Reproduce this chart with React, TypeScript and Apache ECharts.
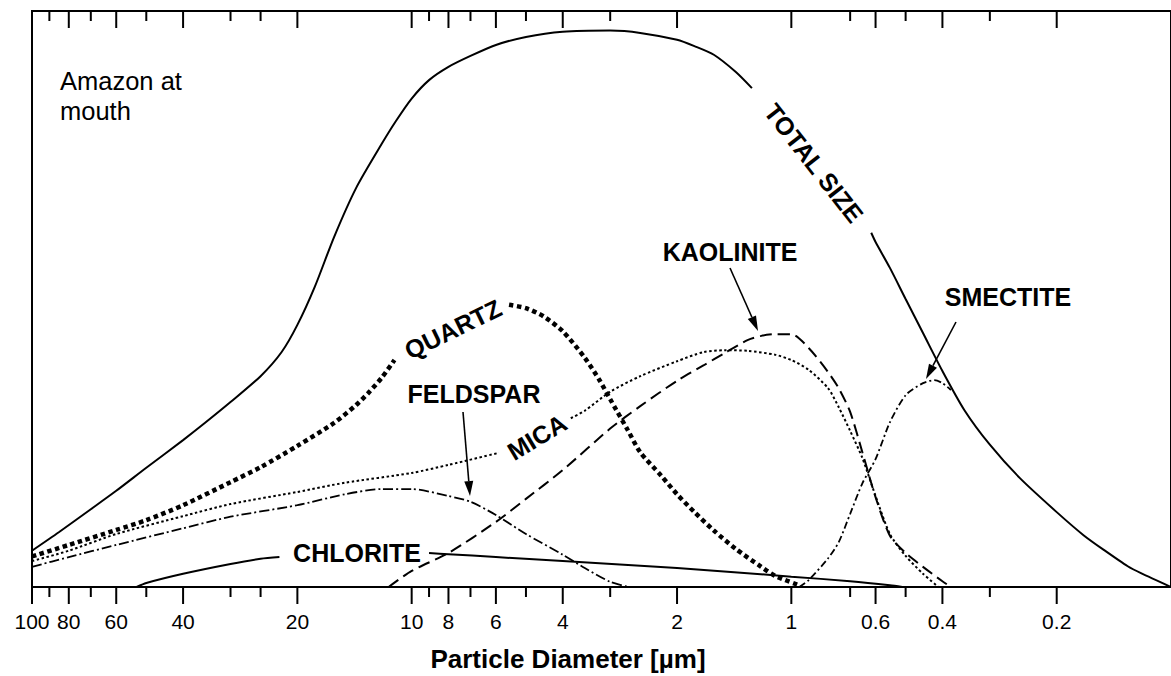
import React, { useEffect, useRef } from "react";
import * as echarts from "echarts";

// x axis: particle diameter [µm] (log, reversed); y: relative amount (0-100)
const majorTicks = [100, 80, 60, 40, 20, 10, 8, 6, 4, 2, 1, 0.6, 0.4, 0.2];
const tickLabels = ["100", "80", "60", "40", "20", "10", "8", "6", "4", "2", "1", "0.6", "0.4", "0.2"];
const minorTicks = [90, 70, 50, 30, 25, 9, 7, 5, 3, 0.7, 0.5, 0.3];

const totalSize = [
  [100, 6.3], [85, 9.5], [70, 13.5], [60, 16.7], [50, 20.7], [40, 25.5], [35, 28.5], [30, 32.1],
  [25, 36.6], [22, 40.8], [20, 45.5], [18, 52.1], [16, 60.8], [14, 69.3], [12, 76.9], [11, 80.9],
  [10, 84.8], [9, 88], [8, 90.3], [7, 92.2], [6, 94.1], [5, 95.5], [4, 96.4], [3, 96.6], [2.5, 96.2],
  [2, 95], [1.8, 93.9], [1.6, 92.4], [1.4, 89.4], [1.27, 86.6], [0.9, "-"], [0.616, 61.5], [0.6, 59.9],
  [0.55, 55.4], [0.5, 50], [0.45, 44.1], [0.4, 37.5], [0.35, 30.7], [0.3, 24.7], [0.25, 18.9],
  [0.2, 13], [0.17, 9], [0.15, 6.4], [0.13, 3.6], [0.12, 2.4], [0.1, 0],
];
const quartz = [
  [100, 5.3], [80, 7.3], [60, 9.9], [50, 11.6], [40, 14.2], [30, 18.2], [25, 20.8], [20, 24.5],
  [16, 28.5], [14, 31.6], [13, 33.7], [12, 36.3], [11.1, 39.4], [8, "-"], [5.54, 49], [5, 48.4],
  [4.5, 47], [4, 44.4], [3.5, 39.8], [3.2, 35.9], [3, 32.6], [2.7, 27.3], [2.5, 23.4], [2.2, 19.3],
  [2, 16.1], [1.8, 13], [1.6, 9.8], [1.4, 6.6], [1.2, 3.5], [1.1, 1.9], [0.953, 0.3],
];
const mica = [
  [100, 4.5], [80, 6.3], [60, 9.2], [40, 12.3], [30, 14.4], [20, 16.5], [15, 18.1], [10, 19.8],
  [8, 21.2], [5.89, 23.3], [4.8, "-"], [3.81, 29.3], [3.5, 30.6], [3, 33.9], [2.5, 36.6], [2, 39.2],
  [1.7, 40.8], [1.5, 41.1], [1.3, 41], [1.1, 40.3], [1, 39.4], [0.9, 37.7], [0.8, 34.5], [0.75, 31.2],
  [0.7, 27.1], [0.65, 22.4], [0.6, 15.8], [0.55, 9.2], [0.5, 5.4], [0.45, 2.3], [0.41, 0],
];
const kaolinite = [
  [11.5, 0], [10, 2.8], [8, 5.9], [6, 11.3], [5, 15.3], [4, 20.3], [3, 27.5], [2.5, 31.4], [2, 35.8],
  [1.7, 38.5], [1.5, 40.6], [1.3, 42.9], [1.2, 43.6], [1.1, 43.9], [1, 43.9], [0.9, 41.5], [0.8, 37.3],
  [0.75, 34.5], [0.7, 30.4], [0.65, 23.4], [0.6, 15.6], [0.55, 8.9], [0.5, 5.9], [0.45, 3.5],
  [0.4, 1], [0.38, 0],
];
const feldspar = [
  [100, 3.5], [80, 5.2], [60, 7.3], [40, 10.2], [30, 12.2], [20, 14.2], [15, 16.1], [12, 17], [10, 17],
  [8, 15.8], [7, 14.8], [6, 12.5], [5, 9.2], [4, 5.6], [3.5, 3.3], [3, 0.9], [2.68, 0],
];
const chlorite = [
  [53, 0], [50, 0.7], [40, 2.3], [30, 4], [25, 4.9], [22.3, 5.2], [14, "-"], [9, 5.9], [8, 5.7],
  [6, 5.2], [4, 4.5], [2, 3.3], [1, 1.8], [0.7, 1], [0.55, 0.3], [0.51, 0],
];
const smectite = [
  [0.953, 0], [0.9, 1.2], [0.8, 5], [0.75, 7.8], [0.7, 12.7], [0.65, 18], [0.6, 22.2], [0.55, 28.6],
  [0.5, 33.3], [0.45, 35.4], [0.42, 35.9], [0.4, 35.4], [0.38, 34.2],
];

const FONT = '"Liberation Sans", Arial, Helvetica, sans-serif';

function label(text: string, x: number, y: number, rotDeg = 0, font = `bold 25px ${FONT}`, align = "center") {
  return {
    type: "text",
    x,
    y,
    rotation: (rotDeg * Math.PI) / 180,
    silent: true,
    style: {
      text,
      font,
      fill: "#000",
      align,
      verticalAlign: "middle",
      textAlign: align,
      textVerticalAlign: "middle",
    },
  };
}

function arrow(x1: number, y1: number, x2: number, y2: number) {
  const a = Math.atan2(y2 - y1, x2 - x1);
  const L = 15;
  const W = 4.5;
  const c = Math.cos(a);
  const s = Math.sin(a);
  const bx = x2 - L * c;
  const by = y2 - L * s;
  return {
    type: "group",
    silent: true,
    children: [
      { type: "line", shape: { x1, y1, x2: bx, y2: by }, style: { stroke: "#000", lineWidth: 1.6 } },
      {
        type: "polygon",
        shape: { points: [[x2, y2], [bx - s * W, by + c * W], [bx + s * W, by - c * W]] },
        style: { fill: "#000" },
      },
    ],
  };
}

function lineSeries(data: any[], width: number, type: any) {
  return {
    type: "line",
    data,
    smooth: 0.25,
    symbol: "none",
    silent: true,
    connectNulls: false,
    lineStyle: { color: "#000", width, type, cap: "butt" },
  };
}

export default function App() {
  const ref = useRef<HTMLDivElement>(null);
  useEffect(() => {
    const chart = echarts.init(ref.current!, null, { renderer: "svg" });
    const tickData = [
      ...majorTicks.map((d, i) => [d, 1, i]),
      ...minorTicks.map((d) => [d, 0, -1]),
    ];
    const option: any = {
      animation: false,
      backgroundColor: "#fff",
      grid: {
        left: 32,
        top: 11,
        width: 1141.5,
        height: 576,
        show: true,
        borderColor: "#000",
        borderWidth: 2,
        backgroundColor: "transparent",
      },
      xAxis: {
        type: "log",
        logBase: 10,
        min: 0.1,
        max: 100,
        inverse: true,
        axisLine: { show: true, lineStyle: { color: "#000", width: 2 } },
        axisTick: { show: false },
        axisLabel: { show: false },
        splitLine: { show: false },
      },
      yAxis: {
        type: "value",
        min: 0,
        max: 100,
        axisLine: { show: true, lineStyle: { color: "#000", width: 2 } },
        axisTick: { show: false },
        axisLabel: { show: false },
        splitLine: { show: false },
      },
      series: [
        lineSeries(totalSize, 2, "solid"),
        lineSeries(quartz, 4.5, [4.5, 3.5]),
        lineSeries(mica, 2, [2.5, 2.5]),
        lineSeries(kaolinite, 2, [12, 6]),
        lineSeries(feldspar, 1.8, [10, 3, 2, 3]),
        lineSeries(chlorite, 2, "solid"),
        lineSeries(smectite, 1.8, [7, 3, 2, 3]),
        {
          type: "custom",
          data: tickData,
          encode: { x: 0, y: 1 },
          clip: false,
          silent: true,
          renderItem: (_params: any, api: any) => {
            const d = api.value(0);
            const major = api.value(1) === 1;
            const idx = api.value(2);
            const b = api.coord([d, 0]);
            const t = api.coord([d, 100]);
            const len = major ? 17 : 10;
            const children: any[] = [
              { type: "line", shape: { x1: b[0], y1: b[1], x2: b[0], y2: b[1] + len }, style: { stroke: "#000", lineWidth: 2 } },
              { type: "line", shape: { x1: t[0], y1: t[1], x2: t[0], y2: t[1] + len }, style: { stroke: "#000", lineWidth: 2 } },
            ];
            if (major) {
              children.push({
                type: "text",
                x: b[0],
                y: b[1] + 34,
                style: {
                  text: tickLabels[idx],
                  font: `21px ${FONT}`,
                  fill: "#000",
                  align: "center",
                  verticalAlign: "middle",
                  textAlign: "center",
                  textVerticalAlign: "middle",
                },
              });
            }
            return { type: "group", children };
          },
        },
      ],
      graphic: [
        label("Amazon at", 60, 80.5, 0, `25.5px ${FONT}`, "left"),
        label("mouth", 60, 111, 0, `25.5px ${FONT}`, "left"),
        label("TOTAL SIZE", 814, 163, -52),
        label("KAOLINITE", 730, 252),
        label("SMECTITE", 1008, 297),
        label("QUARTZ", 453, 329, 26),
        label("FELDSPAR", 474, 394),
        label("MICA", 537, 437, 31),
        label("CHLORITE", 357, 553),
        label("Particle Diameter [µm]", 568, 659, 0, `bold 26px ${FONT}`),
        arrow(463, 412, 470, 496),
        arrow(730, 268, 758, 331),
        arrow(956, 322, 926, 379),
      ],
    };
    chart.setOption(option);
    return () => chart.dispose();
  }, []);
  return (
    <div
      ref={ref}
      style={{ position: "absolute", left: 0, top: 0, width: 1171, height: 676, background: "#fff" }}
    />
  );
}
